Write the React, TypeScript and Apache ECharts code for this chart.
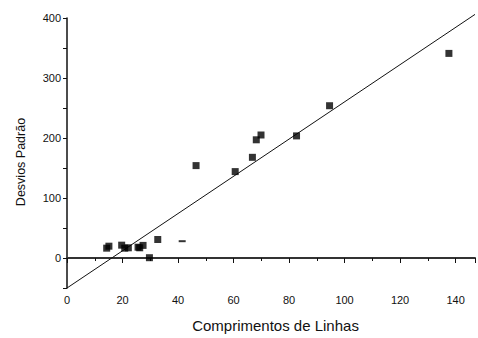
import React, { useEffect, useRef } from "react";
import * as echarts from "echarts";

const xValues = [14.3, 15.1, 19.7, 20.8, 22.1, 25.6, 26.2, 27.4, 32.7, 29.7, 46.5, 60.6, 66.8, 68.2, 69.9, 82.7, 94.6, 137.6];
const yValues = [16.4, 19.7, 21.4, 16.4, 17, 18, 17, 21, 30.8, 0.5, 154, 144, 167.8, 197, 205, 203.5, 253.8, 341];
const dashPoint = [[41.5, 28]];
const fitLine = [[0, -50], [147, 406]];
const xTicks = [0, 20, 40, 60, 80, 100, 120, 140];
const yTicks = [0, 100, 200, 300, 400];
const xTitle = "Comprimentos de Linhas";
const yTitle = "Desvios Padrão";

export default function App() {
  const ref = useRef<HTMLDivElement>(null);
  useEffect(() => {
    if (!ref.current) return;
    const chart = echarts.init(ref.current, null, { renderer: "svg" });
    const font = "Liberation Sans, Arial, sans-serif";
    chart.setOption({
      animation: false,
      grid: { left: 67, top: 18, right: 0, bottom: 47 },
      graphic: [
        {
          type: "text",
          x: 21,
          y: 162,
          rotation: Math.PI / 2,
          style: {
            text: yTitle,
            fontFamily: font,
            fontSize: 12.5,
            fill: "#111",
            align: "center",
            verticalAlign: "middle",
          },
        },
      ],
      xAxis: {
        type: "value",
        min: 0,
        max: 147,
        interval: 20,
        name: xTitle,
        nameLocation: "middle",
        nameGap: 30,
        nameTextStyle: { fontFamily: font, fontSize: 15, color: "#111", padding: [0, 0, 0, 9] },
        splitLine: { show: false },
        axisLine: { show: true, lineStyle: { color: "#333", width: 2 } },
        axisTick: { show: true, length: 5, lineStyle: { color: "#111", width: 1 } },
        minorTick: { show: true, splitNumber: 2, length: 3, lineStyle: { color: "#111", width: 1 } },
        axisLabel: {
          fontFamily: font,
          fontSize: 11,
          color: "#111",
          margin: 6,
          formatter: (v: number) => (xTicks.includes(v) ? String(v) : ""),
        },
      },
      yAxis: {
        type: "value",
        min: -50,
        max: 400,
        interval: 50,
        splitLine: { show: false },
        axisLine: { show: true, lineStyle: { color: "#111", width: 1.5 } },
        axisTick: { show: true, length: 4, lineStyle: { color: "#111", width: 1 } },
        axisLabel: {
          fontFamily: font,
          fontSize: 11,
          color: "#111",
          margin: 6,
          formatter: (v: number) => (yTicks.includes(v) ? String(v) : ""),
        },
      },
      series: [
        {
          type: "line",
          data: fitLine,
          showSymbol: false,
          symbol: "none",
          lineStyle: { color: "#111", width: 1 },
          clip: false,
          z: 1,
        },
        {
          type: "scatter",
          data: xValues.map((x, i) => [x, yValues[i]]),
          symbol: "rect",
          symbolSize: 7,
          itemStyle: { color: "#000" },
          z: 2,
        },
        {
          type: "scatter",
          data: dashPoint,
          symbol: "rect",
          symbolSize: [7, 2],
          itemStyle: { color: "#000" },
          z: 2,
        },
      ],
    });
    return () => chart.dispose();
  }, []);
  return (
    <div
      ref={ref}
      style={{ position: "fixed", left: 0, top: 0, width: 478, height: 338, background: "#fff" }}
    />
  );
}
